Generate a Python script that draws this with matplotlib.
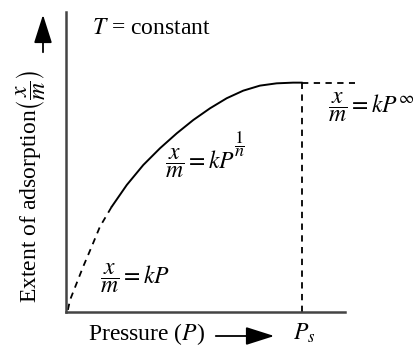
import matplotlib
matplotlib.use("Agg")
import matplotlib.pyplot as plt
from matplotlib.patches import FancyArrowPatch

plt.rcParams['font.family'] = ['Liberation Serif', 'DejaVu Serif']
plt.rcParams['mathtext.fontset'] = 'stix'

# Schematic isotherm (P in units of Ps, x/m in units of saturation)
p_low = [0.008, 0.017, 0.045, 0.073, 0.109, 0.144, 0.194]
xm_low = [0.009, 0.052, 0.125, 0.198, 0.285, 0.372, 0.459]

p_mid = [0.194, 0.258, 0.328, 0.399, 0.470, 0.540, 0.611, 0.682, 0.752, 0.823, 0.894, 0.964, 1.0]
xm_mid = [0.459, 0.554, 0.641, 0.714, 0.779, 0.837, 0.888, 0.932, 0.965, 0.987, 0.997, 1.0, 1.0]

p_high = [1.0, 1.226]
xm_high = [1.0, 1.0]

p_sat = 1.0

fig = plt.figure(figsize=(4.14, 3.47), dpi=100)
ax = fig.add_axes([66 / 414, 35 / 347, 279 / 414, 300 / 347])
ax.set_xlim(0, 1.184)
ax.set_ylim(0, 1.308)

dash = (0, (3.5, 3.0))
ax.plot(p_low, xm_low, color='black', lw=1.3, linestyle=dash)
ax.plot(p_mid, xm_mid, color='black', lw=1.4)
ax.plot(p_high, xm_high, color='black', lw=1.3, linestyle=dash, clip_on=False)
ax.plot([p_sat, p_sat], [0, 1.0], color='black', lw=1.3, linestyle=dash)

for s in ['top', 'right']:
    ax.spines[s].set_visible(False)
for s in ['left', 'bottom']:
    ax.spines[s].set_color('#444444')
    ax.spines[s].set_linewidth(1.8)
ax.set_xticks([])
ax.set_yticks([])

fs = 17
fig.text(92 / 414, 1 - 29 / 347, r'$T$ = constant', fontsize=fs, va='center', ha='left')
fig.text(100 / 414, 1 - 284 / 347, r'$\dfrac{x}{m} = kP$', fontsize=fs, va='baseline')
fig.text(165 / 414, 1 - 169 / 347, r'$\dfrac{x}{m} = kP$', fontsize=fs, va='baseline')
fig.text(240 / 414, 1 - 144 / 347, r'$\dfrac{1}{n}$', fontsize=13, ha='center', va='center')
fig.text(328 / 414, 1 - 113 / 347, r'$\dfrac{x}{m} = kP^{\infty}$', fontsize=fs, va='baseline')

fig.text(88 / 414, 1 - 340 / 347, r'Pressure ($P$)', fontsize=fs, va='baseline')
fig.text(293 / 414, 1 - 340 / 347, r'$P_s$', fontsize=fs, va='baseline')
fig.text(31.5 / 414, 1 - 303 / 347, r'Extent of adsorption$\left(\dfrac{x}{m}\right)$',
         fontsize=fs, rotation=90, ha='center', va='bottom')

for start, end in [((213, 336), (277, 336)), ((43, 55), (43, 12))]:
    fig.add_artist(FancyArrowPatch(
        (start[0] / 414, 1 - start[1] / 347), (end[0] / 414, 1 - end[1] / 347),
        transform=fig.transFigure, arrowstyle='-|>,head_length=11,head_width=3.5',
        color='black', lw=1.3, mutation_scale=1.6))

fig.savefig('out.png', dpi=100)
